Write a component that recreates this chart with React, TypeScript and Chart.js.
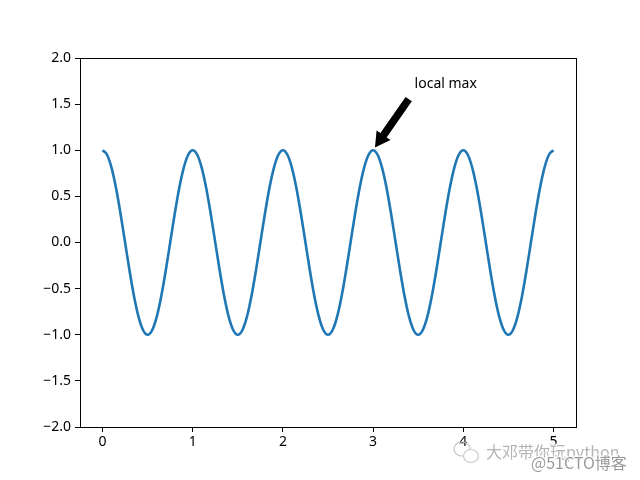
import React, { useEffect, useRef } from "react";
import { Chart, registerables } from "chart.js";

Chart.register(...registerables);

const tValues = [
  0, 0.05, 0.1, 0.15, 0.2, 0.25, 0.3, 0.35, 0.4, 0.45,
  0.5, 0.55, 0.6, 0.65, 0.7, 0.75, 0.8, 0.85, 0.9, 0.95,
  1, 1.05, 1.1, 1.15, 1.2, 1.25, 1.3, 1.35, 1.4, 1.45,
  1.5, 1.55, 1.6, 1.65, 1.7, 1.75, 1.8, 1.85, 1.9, 1.95,
  2, 2.05, 2.1, 2.15, 2.2, 2.25, 2.3, 2.35, 2.4, 2.45,
  2.5, 2.55, 2.6, 2.65, 2.7, 2.75, 2.8, 2.85, 2.9, 2.95,
  3, 3.05, 3.1, 3.15, 3.2, 3.25, 3.3, 3.35, 3.4, 3.45,
  3.5, 3.55, 3.6, 3.65, 3.7, 3.75, 3.8, 3.85, 3.9, 3.95,
  4, 4.05, 4.1, 4.15, 4.2, 4.25, 4.3, 4.35, 4.4, 4.45,
  4.5, 4.55, 4.6, 4.65, 4.7, 4.75, 4.8, 4.85, 4.9, 4.95,
  5,
];

const sValues = [
  1, 0.951, 0.809, 0.588, 0.309, 0, -0.309, -0.588, -0.809, -0.951,
  -1, -0.951, -0.809, -0.588, -0.309, 0, 0.309, 0.588, 0.809, 0.951,
  1, 0.951, 0.809, 0.588, 0.309, 0, -0.309, -0.588, -0.809, -0.951,
  -1, -0.951, -0.809, -0.588, -0.309, 0, 0.309, 0.588, 0.809, 0.951,
  1, 0.951, 0.809, 0.588, 0.309, 0, -0.309, -0.588, -0.809, -0.951,
  -1, -0.951, -0.809, -0.588, -0.309, 0, 0.309, 0.588, 0.809, 0.951,
  1, 0.951, 0.809, 0.588, 0.309, 0, -0.309, -0.588, -0.809, -0.951,
  -1, -0.951, -0.809, -0.588, -0.309, 0, 0.309, 0.588, 0.809, 0.951,
  1, 0.951, 0.809, 0.588, 0.309, 0, -0.309, -0.588, -0.809, -0.951,
  -1, -0.951, -0.809, -0.588, -0.309, 0, 0.309, 0.588, 0.809, 0.951,
  1,
];

const xTicks = [0, 1, 2, 3, 4, 5];
const yTicks = [-2, -1.5, -1, -0.5, 0, 0.5, 1, 1.5, 2];

const annotationText = "local max";
const annotationXY = [3, 1];
const annotationTextXY = [3.46, 1.67];

const watermarkLine1 = "大邓带你玩python";
const watermarkLine2 = "@51CTO博客";

const FONT = "'Noto Sans', 'DejaVu Sans', sans-serif";

const framePlugin = {
  id: "frameAndAnnotation",
  afterDraw(chart: any) {
    const { ctx, chartArea, scales } = chart;
    const xs = scales.x;
    const ys = scales.y;
    ctx.save();
    // full box
    ctx.strokeStyle = "#000";
    ctx.lineWidth = 1;
    ctx.strokeRect(
      Math.round(chartArea.left) + 0.5,
      Math.round(chartArea.top) + 0.5,
      Math.round(chartArea.right - chartArea.left),
      Math.round(chartArea.bottom - chartArea.top)
    );

    // annotation text
    const tx = xs.getPixelForValue(annotationTextXY[0]);
    const ty = ys.getPixelForValue(annotationTextXY[1]);
    ctx.fillStyle = "#000";
    ctx.font = `14px ${FONT}`;
    ctx.textAlign = "left";
    ctx.textBaseline = "alphabetic";
    ctx.fillText(annotationText, tx, ty);

    // arrow
    const ax = xs.getPixelForValue(annotationXY[0]);
    const ay = ys.getPixelForValue(annotationXY[1]);
    const bx = tx - 4;
    const by = ty + 8;
    const dx = bx - ax;
    const dy = by - ay;
    const tipX = ax + 0.05 * dx;
    const tipY = ay + 0.05 * dy;
    const tailX = bx - 0.05 * dx;
    const tailY = by - 0.05 * dy;
    const len = Math.hypot(tailX - tipX, tailY - tipY);
    const ux = (tailX - tipX) / len;
    const uy = (tailY - tipY) / len;
    const px = -uy;
    const py = ux;
    const shaftW = 3.8;
    const headW = 8.5;
    const headL = 15;
    const hbx = tipX + ux * headL;
    const hby = tipY + uy * headL;
    ctx.beginPath();
    ctx.moveTo(tipX, tipY);
    ctx.lineTo(hbx + px * headW, hby + py * headW);
    ctx.lineTo(hbx + px * shaftW, hby + py * shaftW);
    ctx.lineTo(tailX + px * shaftW, tailY + py * shaftW);
    ctx.lineTo(tailX - px * shaftW, tailY - py * shaftW);
    ctx.lineTo(hbx - px * shaftW, hby - py * shaftW);
    ctx.lineTo(hbx - px * headW, hby - py * headW);
    ctx.closePath();
    ctx.fillStyle = "#000";
    ctx.fill();
    ctx.restore();

    // watermark
    ctx.save();
    ctx.strokeStyle = "#c8c8c8";
    ctx.lineWidth = 1.2;
    ctx.beginPath();
    ctx.ellipse(462, 449, 8, 7, 0, 0, Math.PI * 2);
    ctx.stroke();
    ctx.fillStyle = "#fff";
    ctx.beginPath();
    ctx.ellipse(471, 456, 7.5, 6.5, 0, 0, Math.PI * 2);
    ctx.fill();
    ctx.stroke();
    ctx.font = `16px 'Noto Sans CJK SC', sans-serif`;
    ctx.textAlign = "left";
    ctx.textBaseline = "alphabetic";
    ctx.lineWidth = 3;
    ctx.strokeStyle = "rgba(255,255,255,0.8)";
    ctx.strokeText(watermarkLine1, 486, 458);
    ctx.fillStyle = "#b4b4b4";
    ctx.fillText(watermarkLine1, 486, 458);
    ctx.strokeText(watermarkLine2, 531, 469);
    ctx.fillStyle = "#9a9a9a";
    ctx.fillText(watermarkLine2, 531, 469);
    ctx.restore();
  },
};

export default function App() {
  const ref = useRef<HTMLCanvasElement | null>(null);

  useEffect(() => {
    if (!ref.current) return;
    const points = tValues.map((t, i) => ({ x: t, y: sValues[i] }));
    const chart = new Chart(ref.current, {
      type: "line",
      data: {
        datasets: [
          {
            data: points,
            borderColor: "#1f77b4",
            borderWidth: 2.6,
            pointRadius: 0,
            fill: false,
            cubicInterpolationMode: "monotone",
          },
        ],
      },
      options: {
        animation: false,
        responsive: false,
        maintainAspectRatio: false,
        layout: { padding: { left: 0, top: 58, right: 64, bottom: 0 } },
        plugins: { legend: { display: false }, tooltip: { enabled: false } },
        scales: {
          x: {
            type: "linear",
            min: -0.25,
            max: 5.25,
            afterBuildTicks: (scale: any) => {
              scale.ticks = xTicks.map((v) => ({ value: v }));
            },
            afterFit: (scale: any) => {
              scale.height = 53;
            },
            grid: {
              display: true,
              drawOnChartArea: false,
              drawTicks: true,
              tickLength: 5,
              color: "#000",
              lineWidth: 1,
            },
            border: { display: true, color: "#000", width: 1 },
            ticks: {
              color: "#000",
              font: { family: FONT, size: 14 },
              padding: 2,
              maxRotation: 0,
              callback: (v: any) => String(v),
            },
          },
          y: {
            type: "linear",
            min: -2,
            max: 2,
            afterBuildTicks: (scale: any) => {
              scale.ticks = yTicks.map((v) => ({ value: v }));
            },
            afterFit: (scale: any) => {
              scale.width = 80;
            },
            grid: {
              display: true,
              drawOnChartArea: false,
              drawTicks: true,
              tickLength: 5,
              color: "#000",
              lineWidth: 1,
            },
            border: { display: true, color: "#000", width: 1 },
            ticks: {
              color: "#000",
              font: { family: FONT, size: 14 },
              padding: 4,
              callback: (v: any) => {
                const n = Number(v);
                return (n < 0 ? "\u2212" : "") + Math.abs(n).toFixed(1);
              },
            },
          },
        },
      },
      plugins: [framePlugin],
    } as any);
    return () => chart.destroy();
  }, []);

  return (
    <div style={{ position: "fixed", left: 0, top: 0, width: 640, height: 480, background: "#fff" }}>
      <canvas ref={ref} width={640} height={480} style={{ width: 640, height: 480, display: "block" }} />
    </div>
  );
}
